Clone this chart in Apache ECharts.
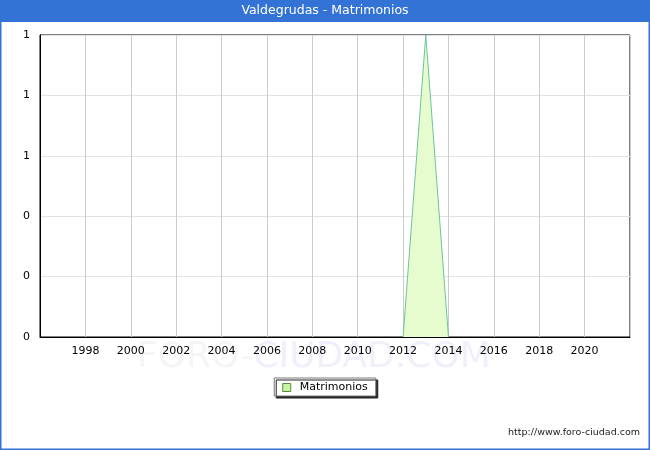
<!DOCTYPE html>
<html style="height: 100%">
<head>
<meta charset="utf-8">
<style>
  html, body { margin: 0; height: 100%; background: #fff; }
  #container { width: 650px; height: 450px; }
</style>
<script src="https://cdn.jsdelivr.net/npm/echarts@6/dist/echarts.min.js"></script>
</head>
<body>
<div id="container"></div>
<script>
// data
var chartTitle = 'Valdegrudas - Matrimonios';
var seriesName = 'Matrimonios';
var years = [2012, 2013, 2014];
var values = [0, 1, 0];

var points = years.map(function (y, i) { return [y, values[i]]; });

var font = 'DejaVu Sans';
var myChart = echarts.init(document.getElementById('container'));

var option = {
  animation: false,
  textStyle: { fontFamily: font },
  graphic: [
    { type: 'rect', z: -10, shape: { x: 0.5, y: 0.5, width: 649, height: 449 },
      style: { fill: '#fff', stroke: '#3473d6', lineWidth: 2 } },
    { type: 'rect', shape: { x: 0, y: 0, width: 650, height: 22 },
      style: { fill: '#3473d6' } },
    { type: 'text', left: 'center', top: 4,
      style: { text: chartTitle, fill: '#fff', font: '12.5px "DejaVu Sans"' } },
    { type: 'text', left: 137, top: 340, z: -5,
      style: {
        text: '{a|FORO-}{b|CIUDAD.COM}',
        rich: {
          a: { fill: '#f5f5f5', font: '36px "DejaVu Sans"' },
          b: { fill: '#f0f0fc', font: '36px "DejaVu Sans"' }
        }
      } },
    { type: 'text', right: 10, top: 428,
      style: { text: 'http://www.foro-ciudad.com', fill: '#222', font: '9.5px "DejaVu Sans"' } }
  ],
  grid: {
    left: 40, top: 35, right: 20, bottom: 113,
    show: true, borderColor: '#000', borderWidth: 1, backgroundColor: 'transparent'
  },
  legend: {
    bottom: 54, left: 'center',
    data: [{ name: seriesName, icon: 'rect',
      itemStyle: { color: '#c8f4a0', borderColor: '#5a8a40', borderWidth: 1 } }],
    itemWidth: 8, itemHeight: 8, itemGap: 10,
    padding: [4, 8, 3, 8],
    backgroundColor: '#fff',
    borderColor: '#777', borderWidth: 1,
    shadowColor: '#222', shadowOffsetX: 2, shadowOffsetY: 2, shadowBlur: 0,
    textStyle: { fontFamily: font, fontSize: 11, color: '#000', padding: [0, 0, 0, 4] }
  },
  xAxis: {
    type: 'value', min: 1996, max: 2022, interval: 2,
    axisLine: { show: true, lineStyle: { color: '#000', width: 1 } },
    axisTick: { show: false },
    axisLabel: {
      showMinLabel: false, showMaxLabel: false, color: '#000', fontSize: 11, margin: 9,
      formatter: function (v) { return String(v); }
    },
    splitLine: { show: true, lineStyle: { color: '#cccccc', width: 1 } }
  },
  yAxis: {
    type: 'value', min: 0, max: 1, interval: 0.2,
    axisLine: { show: true, lineStyle: { color: '#000', width: 1 } },
    axisTick: { show: false },
    axisLabel: {
      color: '#000', fontSize: 11, margin: 10,
      formatter: function (v) { return String(Math.round(v)); }
    },
    splitLine: { show: true, lineStyle: { color: '#e2e2e2', width: 1 } }
  },
  series: [{
    name: seriesName,
    type: 'line',
    data: points,
    symbol: 'none',
    lineStyle: { color: '#6cc49a', width: 1 },
    itemStyle: { color: '#e6fccf', borderColor: '#6cc49a', borderWidth: 1 },
    areaStyle: { color: '#e6fccf', opacity: 1 }
  }]
};

myChart.setOption(option);
window.onresize = function () { myChart.resize(); };
</script>
</body>
</html>
